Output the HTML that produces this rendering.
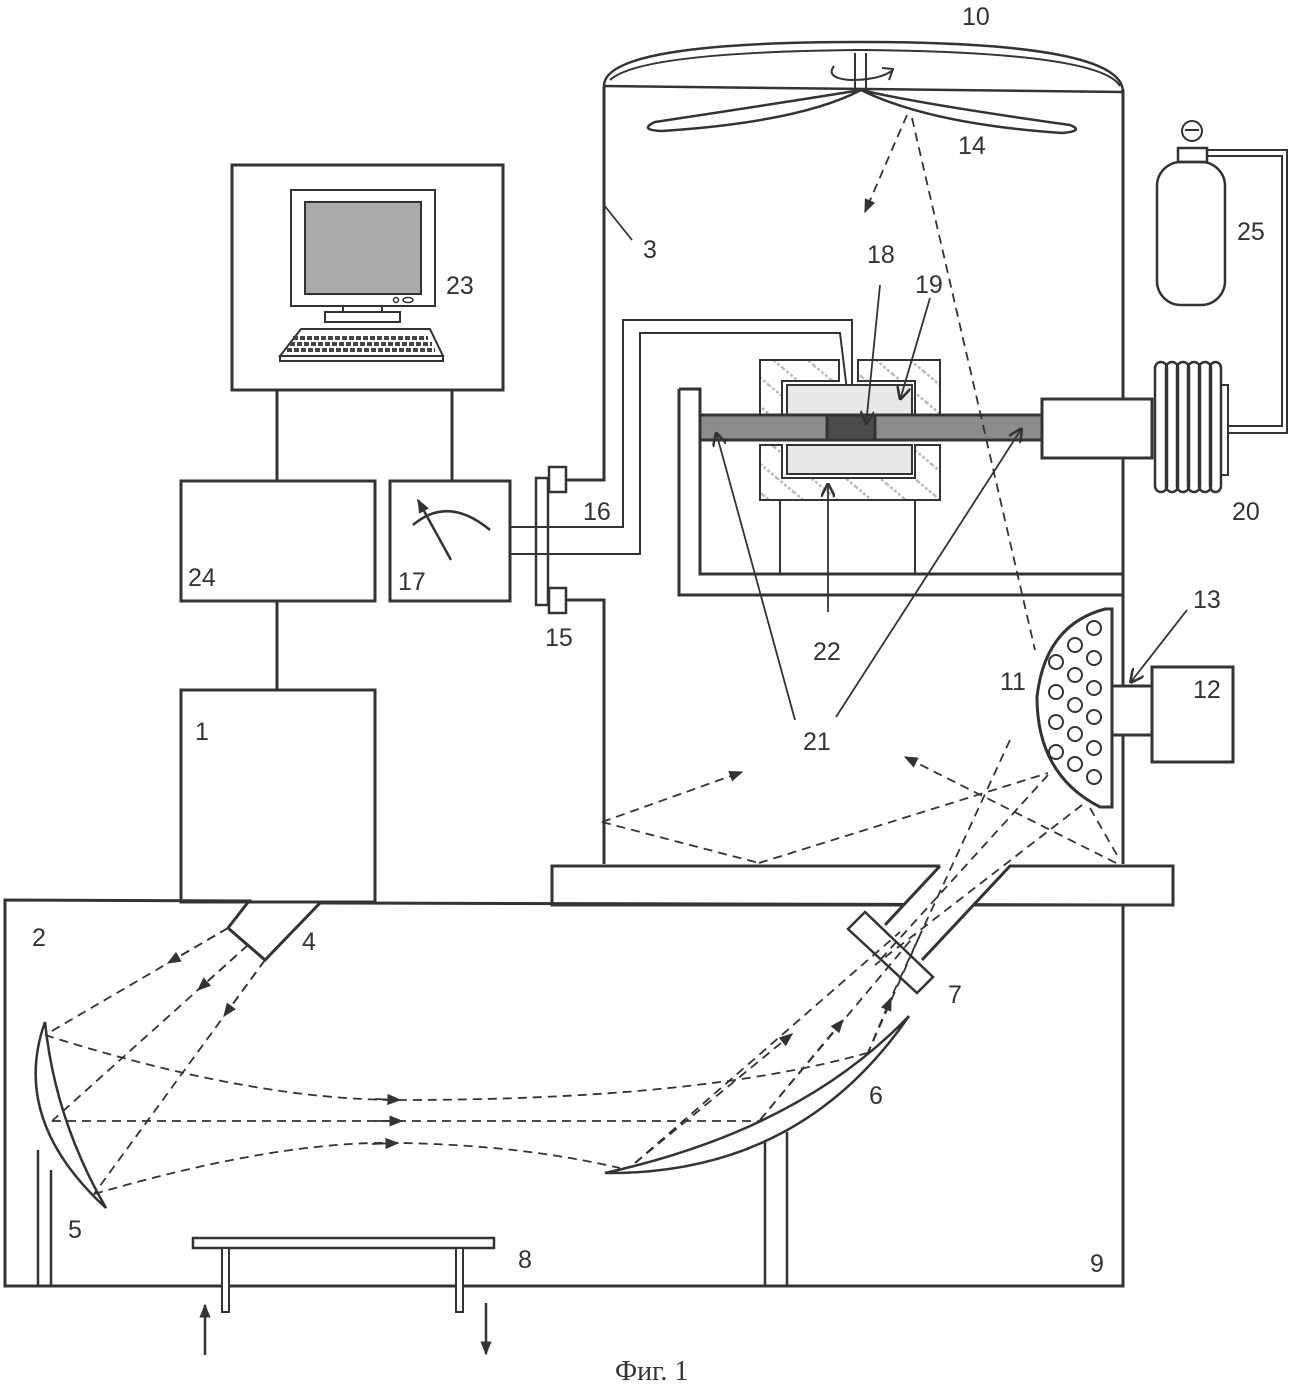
<!DOCTYPE html>
<html><head><meta charset="utf-8">
<style>
html,body{margin:0;padding:0;background:#fff;}
svg{display:block;}
text{font-family:"Liberation Sans",sans-serif;font-size:25px;fill:#333;}
</style></head>
<body>
<svg width="1300" height="1386" viewBox="0 0 1300 1386" xmlns="http://www.w3.org/2000/svg">
<defs>
<pattern id="hatch" width="22" height="22" patternUnits="userSpaceOnUse" patternTransform="rotate(-50)">
<rect width="22" height="22" fill="#fff"/>
<line x1="0" y1="0" x2="0" y2="22" stroke="#bbb" stroke-width="5" stroke-dasharray="3 2"/>
</pattern>
<marker id="ar2" viewBox="0 0 10 10" refX="9" refY="5" markerWidth="14" markerHeight="14" orient="auto" markerUnits="userSpaceOnUse">
<path d="M0,1 L10,5 L0,9 z" fill="#333"/>
</marker>
<marker id="va" viewBox="0 0 10 10" refX="10" refY="5" markerWidth="14" markerHeight="14" orient="auto" markerUnits="userSpaceOnUse">
<path d="M0,0 L10,5 L0,10" fill="none" stroke="#333" stroke-width="1.8"/>
</marker>
</defs>
<g fill="none" stroke="#333" stroke-width="3">
<!-- chamber -->
<path d="M604,86 L604,480 L566,480"/>
<path d="M566,600 L604,600 L604,864"/>
<path d="M1123,90 L1123,864"/>
<path d="M604,86 L1123,92" stroke-width="2.5"/>
<path d="M604,86 Q604,42 860,42 Q1123,42 1123,92" stroke-width="2.5"/>
<path d="M610,80 Q640,52 860,50 Q1100,52 1120,86" stroke-width="2"/>
<!-- fan -->
<path d="M855,53 L855,88 M866,53 L866,88" stroke-width="2"/>
<path d="M861,90 Q800,100 655,122 Q638,130 662,131 Q800,122 861,90 Z" stroke-width="2.5"/>
<path d="M861,90 Q920,104 1070,125 Q1085,131 1062,133 Q930,124 861,90 Z" stroke-width="2.5"/>
<path d="M834,66 Q825,78 850,80 Q880,80 893,70" stroke-width="2"/>
<path d="M882,68 L893,69 L889,80" stroke-width="2"/>
<!-- computer box -->
<rect x="232" y="165" width="271" height="225"/>
<rect x="291" y="190" width="144" height="116" stroke-width="2"/>
<rect x="305" y="202" width="116" height="92" fill="#aaa" stroke-width="2"/>
<rect x="343" y="306" width="39" height="6" stroke-width="2"/>
<rect x="325" y="312" width="75" height="10" stroke-width="2"/>
<circle cx="396" cy="300" r="2.5" stroke-width="1.5"/><ellipse cx="408" cy="300" rx="5" ry="2.5" stroke-width="1.5"/>
<path d="M301,329 L430,329 L443,356 L280,356 Z" stroke-width="2"/>
<rect x="280" y="356" width="163" height="5" stroke-width="2"/>
<path d="M293,338 L428,338 M290,344 L432,344 M287,350 L435,350" stroke="#444" stroke-width="4" stroke-dasharray="5 2"/>
<line x1="277" y1="390" x2="277" y2="481"/>
<line x1="452" y1="390" x2="452" y2="481"/>
<rect x="181" y="481" width="194" height="120"/>
<rect x="390" y="481" width="120" height="120"/>
<path d="M413,525 Q448,495 490,530" stroke-width="2.5"/>
<line x1="451" y1="560" x2="418" y2="500" marker-end="url(#ar2)" stroke-width="2.5"/>
<line x1="277" y1="601" x2="277" y2="690"/>
<rect x="181" y="690" width="194" height="212"/>
<!-- flange 15 -->
<rect x="536" y="478" width="12" height="127" stroke-width="2.5"/>
<rect x="549" y="467" width="17" height="25" stroke-width="2.5"/>
<rect x="549" y="588" width="17" height="25" stroke-width="2.5"/>
<!-- pipe 16 -->
<path d="M510,527 L623,527 L623,320 L852,320 L852,415" stroke-width="2"/>
<path d="M510,554 L640,554 L640,333 L840,333 L850,415" stroke-width="2"/>
<!-- sample L frame -->
<path d="M679,389 L679,595 L1123,595 M679,389 L700,389 L700,574 L1123,574"/>
<line x1="780" y1="500" x2="780" y2="574" stroke-width="2"/>
<line x1="915" y1="500" x2="915" y2="574" stroke-width="2"/>
<!-- hatched housing -->
<path d="M760,360 L839,360 L839,381 L782,381 L782,415 L760,415 Z" fill="url(#hatch)" stroke-width="2"/>
<path d="M858,360 L940,360 L940,415 L915,415 L915,381 L858,381 Z" fill="url(#hatch)" stroke-width="2"/>
<path d="M760,445 L782,445 L782,478 L915,478 L915,445 L940,445 L940,500 L760,500 Z" fill="url(#hatch)" stroke-width="2"/>
<rect x="787" y="385" width="125" height="30" fill="#e8e8e8" stroke-width="2"/>
<rect x="787" y="445" width="125" height="29" fill="#e8e8e8" stroke-width="2"/>
<!-- rod -->
<rect x="700" y="415" width="342" height="25" fill="#8c8c8c"/>
<rect x="827" y="415" width="48" height="25" fill="#4a4a4a"/>
<rect x="1042" y="399" width="110" height="59" fill="#fff"/>
<!-- bellows -->
<g stroke-width="2.5">
<rect x="1155" y="362" width="12" height="130" rx="6"/>
<rect x="1166" y="362" width="12" height="130" rx="6"/>
<rect x="1177" y="362" width="12" height="130" rx="6"/>
<rect x="1188" y="362" width="12" height="130" rx="6"/>
<rect x="1199" y="362" width="12" height="130" rx="6"/>
<rect x="1210" y="362" width="11" height="130" rx="6"/>
</g>
<rect x="1221" y="385" width="7" height="90" stroke-width="2"/>
<!-- gas cylinder -->
<rect x="1157" y="162" width="68" height="143" rx="24" stroke-width="2.5"/>
<rect x="1178" y="148" width="29" height="14" stroke-width="2.5"/>
<circle cx="1192" cy="131" r="10" stroke-width="2"/>
<path d="M1185,130 L1199,130" stroke-width="2"/>
<path d="M1207,150 L1287,150 L1287,433 L1228,433 M1207,156 L1282,156 L1282,426 L1228,426" stroke-width="2"/>
<!-- lamp -->
<path d="M1112,609 L1112,807 L1100,807 Q1037,775 1037,697 Q1045,625 1105,609 Z" stroke-width="3"/>
<g stroke-width="2">
<circle cx="1094" cy="628" r="7"/><circle cx="1094" cy="658" r="7"/><circle cx="1094" cy="688" r="7"/><circle cx="1094" cy="717" r="7"/><circle cx="1094" cy="748" r="7"/><circle cx="1094" cy="777" r="7"/>
<circle cx="1075" cy="645" r="7"/><circle cx="1075" cy="675" r="7"/><circle cx="1075" cy="705" r="7"/><circle cx="1075" cy="734" r="7"/><circle cx="1075" cy="764" r="7"/>
<circle cx="1056" cy="662" r="7"/><circle cx="1056" cy="692" r="7"/><circle cx="1056" cy="722" r="7"/><circle cx="1056" cy="752" r="7"/>
</g>
<rect x="1112" y="686" width="40" height="49" fill="#fff"/>
<rect x="1152" y="667" width="81" height="95"/>
<!-- bench -->
<path d="M552,866 L552,905 L1173,905 L1173,866 Z" fill="#fff"/>
<!-- lower enclosure -->
<path d="M320,903 L1123,905 L1123,1286 L5,1286 L5,900 L249,901 L228,928"/>
<path d="M228,928 L265,960 L320,903"/>
<!-- tube + window (through bench) -->
<path d="M941,864 L1010,864 L922,960 L885,925 Z" fill="#fff" stroke="none"/>
<path d="M940,866 L885,925 M1010,866 L922,960"/>
<path d="M848,929 L865,912 L933,977 L917,993 Z" fill="#fff" stroke-width="2.5"/>
<!-- mirror 5 -->
<path d="M45,1022 Q10,1120 106,1208 Q55,1120 45,1022 Z" stroke-width="2.5" fill="#fff"/>
<path d="M38,1150 L38,1286 M51,1170 L51,1286" stroke-width="2.5"/>
<!-- mirror 6 -->
<path d="M605,1173 Q800,1175 909,1016 Q800,1130 605,1173 Z" stroke-width="2.5" fill="#fff"/>
<path d="M765,1142 L765,1286 M787,1132 L787,1286" stroke-width="2.5"/>
<!-- table 8 -->
<rect x="193" y="1238" width="301" height="10" stroke-width="2.5" fill="#fff"/>
<rect x="222" y="1248" width="7" height="64" stroke-width="2" fill="#fff"/>
<rect x="456" y="1248" width="7" height="64" stroke-width="2" fill="#fff"/>
<line x1="205" y1="1355" x2="205" y2="1305" stroke-width="2.5" marker-end="url(#ar2)"/>
<line x1="486" y1="1303" x2="486" y2="1354" stroke-width="2.5" marker-end="url(#ar2)"/>
<!-- leaders -->
<g stroke-width="1.8">
<line x1="604" y1="205" x2="632" y2="240"/>
<line x1="880" y1="285" x2="866" y2="425" marker-end="url(#va)"/>
<line x1="930" y1="298" x2="900" y2="400" marker-end="url(#va)"/>
<line x1="795" y1="720" x2="716" y2="432" marker-end="url(#va)"/>
<line x1="836" y1="717" x2="1022" y2="428" marker-end="url(#va)"/>
<line x1="828" y1="612" x2="828" y2="483" marker-end="url(#va)"/>
<line x1="1187" y1="610" x2="1130" y2="683" marker-end="url(#va)"/>
</g>
</g>
<!-- dashed rays -->
<g fill="none" stroke="#333" stroke-width="1.8" stroke-dasharray="9 6">
<line x1="907" y1="115" x2="865" y2="212" marker-end="url(#ar2)"/>
<line x1="912" y1="118" x2="1035" y2="650"/>
<line x1="602" y1="822" x2="742" y2="772" marker-end="url(#ar2)"/>
<line x1="602" y1="822" x2="759" y2="863"/>
<line x1="759" y1="863" x2="1048" y2="773"/>
<line x1="1116" y1="863" x2="905" y2="757" marker-end="url(#ar2)"/>
<line x1="1090" y1="808" x2="1117" y2="855"/>
<line x1="1010" y1="740" x2="890" y2="1000"/>
<line x1="1048" y1="775" x2="880" y2="960"/>
<line x1="1082" y1="805" x2="875" y2="965"/>
<line x1="635" y1="1163" x2="900" y2="932"/>
<line x1="635" y1="1163" x2="792" y2="1034" marker-end="url(#ar2)"/>
<line x1="760" y1="1120" x2="915" y2="935"/>
<line x1="760" y1="1120" x2="843" y2="1020" marker-end="url(#ar2)"/>
<line x1="867" y1="1055" x2="920" y2="935"/>
<line x1="867" y1="1055" x2="891" y2="998" marker-end="url(#ar2)"/>
<line x1="228" y1="928" x2="45" y2="1035"/>
<line x1="228" y1="928" x2="168" y2="963" marker-end="url(#ar2)"/>
<line x1="248" y1="945" x2="52" y2="1121"/>
<line x1="248" y1="945" x2="198" y2="990" marker-end="url(#ar2)"/>
<line x1="265" y1="960" x2="94" y2="1194"/>
<line x1="265" y1="960" x2="224" y2="1016" marker-end="url(#ar2)"/>
<path d="M45,1035 Q250,1100 400,1100 Q700,1100 867,1053"/>
<path d="M52,1121 L760,1121"/>
<path d="M94,1194 Q280,1140 400,1143 Q520,1145 620,1168"/>
<line x1="375" y1="1099" x2="400" y2="1100" marker-end="url(#ar2)" stroke-dasharray="none"/>
<line x1="375" y1="1121" x2="402" y2="1121" marker-end="url(#ar2)" stroke-dasharray="none"/>
<line x1="372" y1="1144" x2="398" y2="1143" marker-end="url(#ar2)" stroke-dasharray="none"/>
</g>
<!-- labels -->
<text x="962" y="25">10</text>
<text x="958" y="154">14</text>
<text x="643" y="258">3</text>
<text x="446" y="294">23</text>
<text x="867" y="263">18</text>
<text x="915" y="293">19</text>
<text x="1237" y="240">25</text>
<text x="583" y="520">16</text>
<text x="1232" y="520">20</text>
<text x="188" y="586">24</text>
<text x="398" y="590">17</text>
<text x="545" y="646">15</text>
<text x="1193" y="608">13</text>
<text x="1193" y="698">12</text>
<text x="813" y="660">22</text>
<text x="1000" y="690">11</text>
<text x="803" y="750">21</text>
<text x="195" y="740">1</text>
<text x="32" y="946">2</text>
<text x="302" y="950">4</text>
<text x="948" y="1003">7</text>
<text x="869" y="1104">6</text>
<text x="68" y="1238">5</text>
<text x="518" y="1268">8</text>
<text x="1090" y="1272">9</text>
<text x="615" y="1380" style="font-family:'Liberation Serif',serif;font-size:28px">Фиг. 1</text>
</svg>
</body></html>
